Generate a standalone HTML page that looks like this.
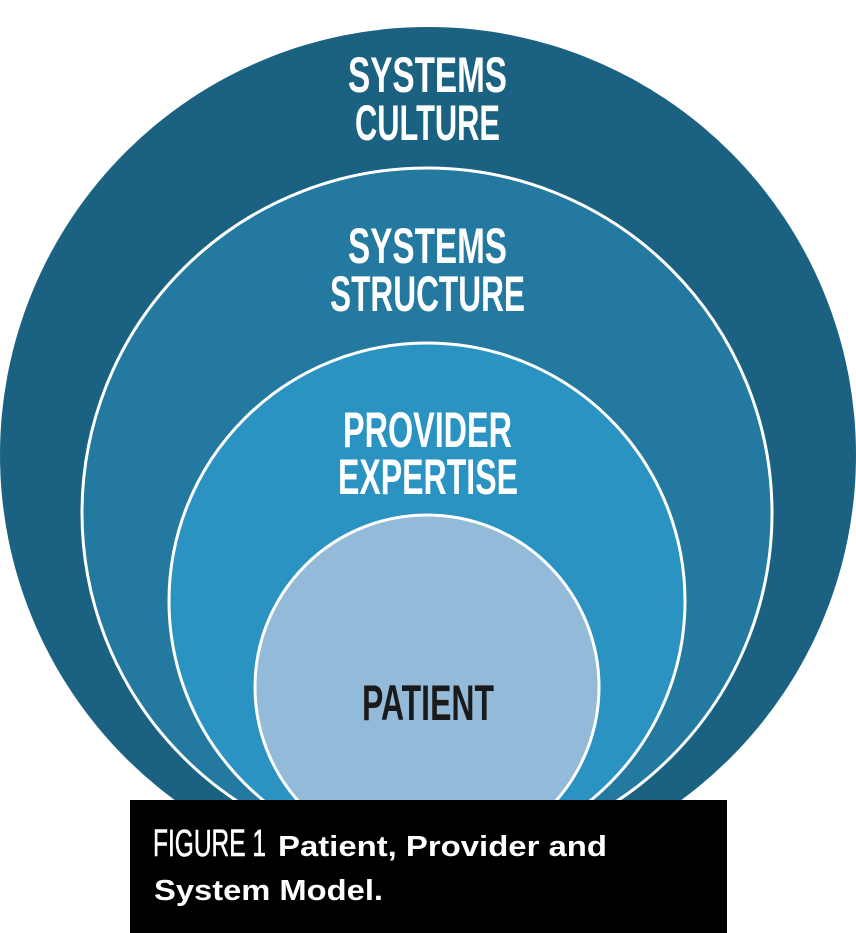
<!DOCTYPE html>
<html><head><meta charset="utf-8"><style>
html,body{margin:0;padding:0;background:#fff;}
svg{display:block;}
text{font-family:"Liberation Sans Narrow","Liberation Sans",sans-serif;font-weight:bold;}
</style></head><body>
<svg width="856" height="933" viewBox="0 0 856 933" xmlns="http://www.w3.org/2000/svg">
<rect width="856" height="933" fill="#fff"/>
<circle cx="428" cy="455" r="428" fill="#1b6282"/>
<circle cx="427" cy="513" r="345" fill="#23799f" stroke="#fff" stroke-width="3"/>
<circle cx="427" cy="601" r="258" fill="#2a93c2" stroke="#fff" stroke-width="3"/>
<circle cx="427" cy="687" r="172" fill="#93bad8" stroke="#fff" stroke-width="3"/>
<g fill="#fff" font-size="50">
<text x="348" y="92" textLength="159" lengthAdjust="spacingAndGlyphs">SYSTEMS</text>
<text x="355" y="140" textLength="145" lengthAdjust="spacingAndGlyphs">CULTURE</text>
<text x="348" y="263" textLength="159" lengthAdjust="spacingAndGlyphs">SYSTEMS</text>
<text x="330" y="311" textLength="195" lengthAdjust="spacingAndGlyphs">STRUCTURE</text>
<text x="343" y="447" textLength="169" lengthAdjust="spacingAndGlyphs">PROVIDER</text>
<text x="338" y="494" textLength="180" lengthAdjust="spacingAndGlyphs">EXPERTISE</text>
</g>
<text x="362" y="720" font-size="50" fill="#1a1a1a" textLength="132" lengthAdjust="spacingAndGlyphs">PATIENT</text>
<rect x="130" y="800" width="597" height="133" fill="#000"/>
<text x="153" y="856" font-size="38" fill="#fff" stroke="#fff" stroke-width="0.6" textLength="113" lengthAdjust="spacingAndGlyphs" style="font-weight:normal">FIGURE 1</text>
<text x="278" y="856" font-size="29" fill="#fff" style="font-family:'Liberation Sans',sans-serif" textLength="329" lengthAdjust="spacingAndGlyphs">Patient, Provider and</text>
<text x="154" y="900" font-size="29" fill="#fff" style="font-family:'Liberation Sans',sans-serif" textLength="229" lengthAdjust="spacingAndGlyphs">System Model.</text>
</svg>
</body></html>
